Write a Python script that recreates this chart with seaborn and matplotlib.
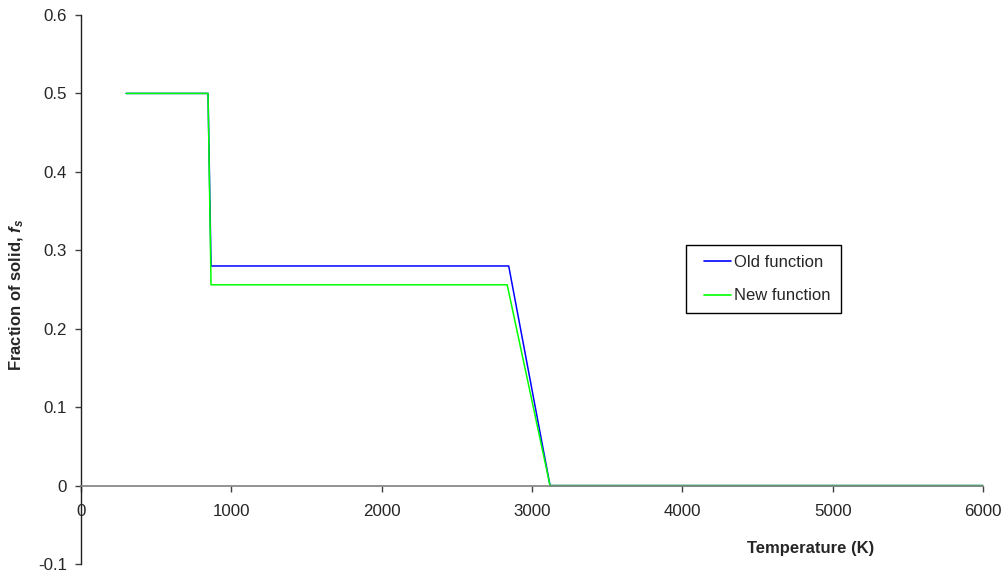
import matplotlib
matplotlib.use("Agg")
import matplotlib.pyplot as plt
import seaborn as sns
import pandas as pd
from matplotlib.ticker import FixedLocator, FuncFormatter
from matplotlib.legend_handler import HandlerLine2D
from matplotlib.lines import Line2D

# Temperature breakpoints (K) and solid fraction for each model
old_temp = [300, 845, 865, 2845, 3120, 6000]
old_fs = [0.5, 0.5, 0.28, 0.28, 0.0, 0.0]

new_temp = [300, 845, 865, 2835, 3120, 6000]
new_fs = [0.5, 0.5, 0.256, 0.256, 0.0, 0.0]

series_names = ["Old function", "New function"]
series_colors = ["#0000FF", "#00FF00"]

x_ticks = [0, 1000, 2000, 3000, 4000, 5000, 6000]
y_ticks = [-0.1, 0, 0.1, 0.2, 0.3, 0.4, 0.5, 0.6]

df = pd.concat([
    pd.DataFrame({"T": old_temp, "fs": old_fs, "model": series_names[0]}),
    pd.DataFrame({"T": new_temp, "fs": new_fs, "model": series_names[1]}),
], ignore_index=True)

sns.set_style("white")
plt.rcParams["font.family"] = ["Liberation Sans", "DejaVu Sans"]
plt.rcParams["mathtext.fontset"] = "custom"
plt.rcParams["mathtext.it"] = "Liberation Sans:italic:bold"
plt.rcParams["mathtext.rm"] = "Liberation Sans:bold"
plt.rcParams["axes.unicode_minus"] = False

fig = plt.figure(figsize=(10.08, 5.75), dpi=100)
ax = fig.add_axes([81 / 1008, 1 - 564 / 575, (983 - 81) / 1008, (564 - 15) / 575])

sns.lineplot(data=df, x="T", y="fs", hue="model", hue_order=series_names,
             palette=series_colors, estimator=None, sort=False,
             linewidth=1.1, ax=ax)

ax.set_xlim(0, 6000)
ax.set_ylim(-0.1, 0.6)
ax.xaxis.set_major_locator(FixedLocator(x_ticks))
ax.yaxis.set_major_locator(FixedLocator(y_ticks))
ax.xaxis.set_major_formatter(FuncFormatter(lambda v, p: f"{v:.0f}"))
ax.yaxis.set_major_formatter(FuncFormatter(lambda v, p: "0" if abs(v) < 1e-9 else f"{v:g}"))

# Axis lines: horizontal axis crosses at fs = 0
ax.spines["top"].set_visible(False)
ax.spines["right"].set_visible(False)
ax.spines["bottom"].set_position(("data", 0))
ax.spines["bottom"].set_color("#808080")
ax.spines["bottom"].set_linewidth(1.2)
ax.spines["left"].set_color("#202020")
ax.spines["left"].set_linewidth(1.0)

ax.tick_params(axis="x", direction="out", length=4, width=1, color="#404040",
               pad=9, labelsize=12.2, bottom=True)
ax.tick_params(axis="y", direction="out", length=4, width=1, color="#404040",
               pad=6, labelsize=12.2, left=True)

ax.set_xlabel("Temperature (K)", fontsize=12, fontweight="bold")
ax.xaxis.label.set_va("center")
ax.xaxis.set_label_coords((811 - 81) / 902, (564 - 548) / 549)

ax.set_ylabel(r"Fraction of solid, $\mathit{f}_\mathit{s}$", fontsize=12, fontweight="bold")
ax.yaxis.label.set_va("center")
ax.yaxis.set_label_coords((17 - 81) / 902, 0.49)

leg = ax.legend(loc="upper left", bbox_to_anchor=((686 - 81) / 902, (564 - 245) / 549),
                frameon=True, fancybox=False, shadow=False, fontsize=12,
                borderpad=0.6, handlelength=2.1, handletextpad=0.2,
                labelspacing=1.1, borderaxespad=0,
                handler_map={Line2D: HandlerLine2D(xpad=0.45)})
leg.get_frame().set_edgecolor("black")
leg.get_frame().set_linewidth(1.0)
leg.get_frame().set_alpha(1)
for h in leg.get_lines():
    h.set_linewidth(1.2)

fig.savefig("out.png", dpi=100)
